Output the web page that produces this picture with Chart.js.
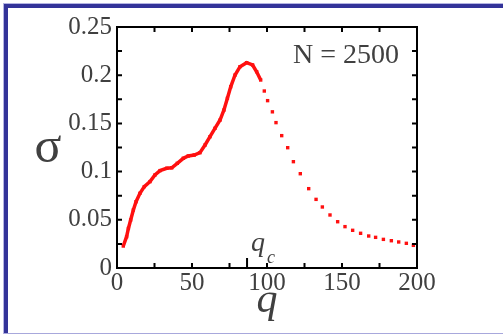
<!DOCTYPE html>
<html>
<head>
<meta charset="utf-8">
<script src="https://cdn.jsdelivr.net/npm/chart.js@4"></script>
<style>
    html, body { margin: 0; padding: 0; background: #fff; overflow: hidden; }
    .frame {
        position: absolute; left: 3px; top: 3px; width: 520px; height: 329px;
        border-left: 1px solid #b4b4e2; border-top: 1px solid #b4b4e2;
        border-bottom: 1px solid #a8a8dc;
    }
    .frame-inner {
        width: 100%; height: 100%; box-sizing: border-box;
        border-left: 4px solid #333399; border-top: 4px solid #333399;
    }
    #chart { position: absolute; left: 0; top: 0; }
</style>
</head>
<body>
<div class="frame"><div class="frame-inner"></div></div>
<canvas id="chart" width="503" height="335"></canvas>
<script>
// dados
const qValues = [4.2, 6.4, 7.6, 9.1, 10.9, 12.7, 15.3, 18.2, 22, 25.3, 28.7, 33.1, 36.5, 40.2, 44.2, 47.5, 51.5, 55.3, 58.7, 62,
    65.3, 68.7, 71.3, 73.6, 75.8, 78.7, 82, 86.4, 90.4, 93.1, 95.8, 98.2, 100.4, 103.6, 106, 109.8, 113.8, 117.6, 122.2, 127.8,
    132.7, 136.9, 142, 147.1, 152, 157.1, 162.4, 167.8, 172.4, 177.6, 182.9, 187.8, 192.9, 197.6];
const sigmaValues = [0.0228, 0.0325, 0.041, 0.0498, 0.0602, 0.0688, 0.0775, 0.0844, 0.0896, 0.0965, 0.101, 0.1034, 0.104, 0.1086,
    0.1138, 0.1162, 0.1172, 0.1196, 0.1276, 0.1362, 0.1449, 0.1535, 0.1639, 0.176, 0.188, 0.2002, 0.2088, 0.213, 0.2106, 0.2036,
    0.195, 0.1836, 0.1736, 0.162, 0.1508, 0.1373, 0.1248, 0.1103, 0.0978, 0.0823, 0.0712, 0.0633, 0.055, 0.048, 0.0429, 0.0391,
    0.036, 0.0332, 0.0318, 0.0297, 0.0283, 0.027, 0.0256, 0.0235];
const xTickLabels = ['0', '50', '100', '150', '200'];
const yTickLabels = ['0', '0.05', '0.1', '0.15', '0.2', '0.25'];
const qc = 86.7;
const denseLimit = 97; // até aqui os pontos são contínuos

const serif = '"Liberation Serif", "DejaVu Serif", serif';
const txtColor = '#404040';

// moldura, ticks para dentro e textos
const framePlugin = {
    id: 'framePlugin',
    afterDatasetsDraw(chart) {
        const { ctx, chartArea: a, scales: { x, y } } = chart;
        ctx.save();
        ctx.strokeStyle = '#000';
        ctx.lineWidth = 2;
        ctx.strokeRect(a.left, a.top, a.right - a.left, a.bottom - a.top);
        ctx.beginPath();
        x.ticks.forEach((t) => {
            const px = x.getPixelForValue(t.value);
            ctx.moveTo(px, a.bottom); ctx.lineTo(px, a.bottom - 5);
            ctx.moveTo(px, a.top); ctx.lineTo(px, a.top + 5);
        });
        y.ticks.forEach((t) => {
            const py = y.getPixelForValue(t.value);
            ctx.moveTo(a.left, py); ctx.lineTo(a.left + 5, py);
            ctx.moveTo(a.right, py); ctx.lineTo(a.right - 5, py);
        });
        const pq = x.getPixelForValue(qc);
        ctx.moveTo(pq, a.bottom); ctx.lineTo(pq, a.bottom - 10);
        ctx.stroke();

        ctx.fillStyle = txtColor;
        ctx.textBaseline = 'alphabetic';
        ctx.textAlign = 'center';
        ctx.font = '28px ' + serif;
        ctx.fillText('N = 2500', 346, 63);

        ctx.font = '50px ' + serif;
        ctx.fillText('σ', 48, 162);

        ctx.font = 'italic 42px ' + serif;
        ctx.fillText('q', 267, 312);

        ctx.textAlign = 'left';
        ctx.font = 'italic 28px ' + serif;
        ctx.fillText('q', 251, 251);
        ctx.font = 'italic 18px ' + serif;
        ctx.fillText('c', 267, 263);
        ctx.restore();
    },
};

new Chart(document.getElementById('chart'), {
    type: 'scatter',
    data: {
        datasets: [{
            data: qValues.map((q, i) => ({ x: q, y: sigmaValues[i] })),
            showLine: true,
            borderColor: '#ff1010',
            borderWidth: 3.5,
            segment: {
                borderColor: (c) => (c.p1.parsed.x > denseLimit ? 'rgba(0,0,0,0)' : '#ff1010'),
            },
            backgroundColor: '#ff1010',
            pointBackgroundColor: '#ff1010',
            pointBorderWidth: 0,
            pointStyle: 'rect',
            pointRadius: 2.4,
        }],
    },
    plugins: [framePlugin],
    options: {
        responsive: false,
        animation: false,
        layout: { padding: { top: 27, right: 86, left: 0, bottom: 0 } },
        plugins: { legend: { display: false }, tooltip: { enabled: false } },
        scales: {
            x: {
                type: 'linear', min: 0, max: 200,
                grid: { display: false, drawTicks: false },
                border: { display: false },
                afterFit: (s) => { s.height = 67; },
                ticks: {
                    stepSize: 25, padding: 0, color: txtColor,
                    font: { family: serif, size: 25 },
                    maxRotation: 0, autoSkip: false,
                    callback: (v) => (v % 50 === 0 ? xTickLabels[v / 50] : ''),
                },
            },
            y: {
                type: 'linear', min: 0, max: 0.25,
                grid: { display: false, drawTicks: false },
                border: { display: false },
                afterFit: (s) => { s.width = 117; },
                ticks: {
                    stepSize: 0.025, padding: 5, color: txtColor,
                    font: { family: serif, size: 25 },
                    autoSkip: false,
                    callback: (v) => {
                        const k = Math.round(v / 0.025);
                        return k % 2 === 0 ? yTickLabels[k / 2] : '';
                    },
                },
            },
        },
    },
});
</script>
</body>
</html>
